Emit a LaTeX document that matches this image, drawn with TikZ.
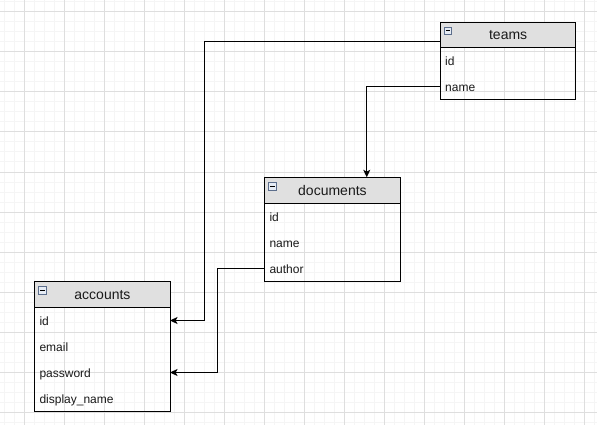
\documentclass[tikz,border=0pt]{standalone}
\usepackage{fontspec}
\setmainfont{Liberation Sans}
\usetikzlibrary{arrows.meta,fit,calc}
\definecolor{hdrgray}{HTML}{E0E0E0}
\definecolor{gridmajor}{HTML}{DEDEDE}
\definecolor{gridminor}{HTML}{F5F5F5}
\definecolor{iconline}{HTML}{5C6E8C}
\definecolor{iconfill}{HTML}{E6ECF5}
\definecolor{txt}{HTML}{1A1A1A}
\tikzset{
  hdr/.style={draw=black, line width=1pt, fill=hdrgray, minimum width=135.3pt, minimum height=25.6pt,
    inner sep=0pt, anchor=north west, text=txt, text height=11pt, text depth=1.5pt,
    font=\fontsize{14}{16}\selectfont},
  row/.style={minimum height=26pt, text width=125.3pt, inner xsep=5pt, inner ysep=0pt,
    text height=12pt, text depth=2pt,
    align=left, anchor=north west, text=txt, font=\fontsize{12}{14}\selectfont},
  body/.style={draw=black, line width=1pt, inner sep=0pt},
  icon/.style={draw=iconline, line width=0.8pt, fill=iconfill, minimum size=7.5pt, inner sep=0pt,
    path picture={\draw[black, line width=1pt] ([xshift=-2.3pt]path picture bounding box.center) -- ([xshift=2.3pt]path picture bounding box.center);}},
  conn/.style={draw=black, line width=1pt, -{Stealth[length=7.5pt,width=7pt,inset=1.8pt]}},
}
\begin{document}
\begin{tikzpicture}[x=1pt,y=-1pt]
\useasboundingbox (0,0) rectangle (597,425);
\fill[white] (0,0) rectangle (597,425);
% grid
\foreach \gx in {4,14,...,594} \draw[gridminor, line width=1pt] (\gx,0) -- (\gx,425);
\foreach \gy in {2,12,...,422} \draw[gridminor, line width=1pt] (0,\gy) -- (597,\gy);
\foreach \gx in {24,64,...,584} \draw[gridmajor, line width=1pt] (\gx,0) -- (\gx,425);
\foreach \gy in {12,52,...,412} \draw[gridmajor, line width=1pt] (0,\gy) -- (597,\gy);

% teams
\node[hdr] (teamsH) at (440,21.7) {teams};
\node[row] (teamsId) at (440,47.3) {id};
\node[row] (teamsName) at (440,73.3) {name};
\node[body, fit=(teamsId)(teamsName)] (teamsBody) {};
\node[icon] (teamsIcon) at ([shift={(8,9.3)}]teamsH.north west) {};

% documents
\node[hdr] (docH) at (264.3,177.3) {documents};
\node[row] (docId) at (264.3,203.3) {id};
\node[row] (docName) at (264.3,229.3) {name};
\node[row] (docAuthor) at (264.3,255.3) {author};
\node[body, fit=(docId)(docAuthor)] (docBody) {};
\node[icon] (docIcon) at ([shift={(8,9.3)}]docH.north west) {};

% accounts
\node[hdr] (accH) at (34.3,281.3) {accounts};
\node[row] (accId) at (34.3,307.3) {id};
\node[row] (accEmail) at (34.3,333.3) {email};
\node[row] (accPassword) at (34.3,359.3) {password};
\node[row] (accDisplay) at (34.3,385.3) {display\_name};
\node[body, fit=(accId)(accDisplay)] (accBody) {};
\node[icon] (accIcon) at ([shift={(8,9.3)}]accH.north west) {};

% connectors
\draw[conn] ([yshift=-6.8pt]teamsH.west) -- ++(-235.5,0) |- (accId.east);
\draw[conn] (teamsName.west) -| ([xshift=34.3pt]docH.north);
\draw[conn] (docAuthor.west) -- ++(-46.6,0) |- (accPassword.east);
\end{tikzpicture}
\end{document}
